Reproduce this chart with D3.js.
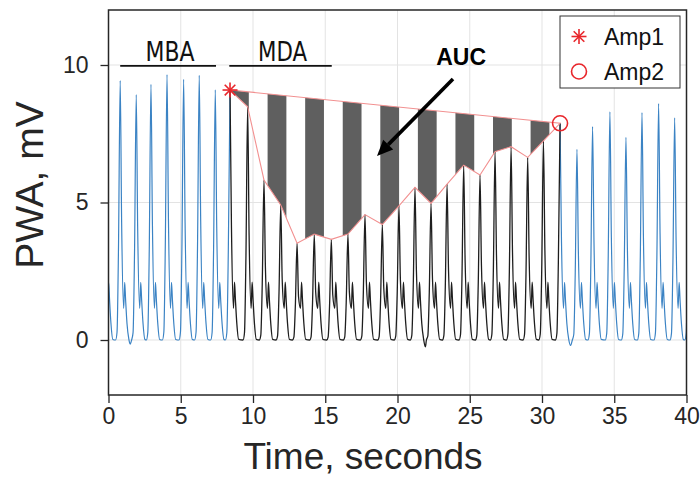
<!DOCTYPE html>
<html>
<head>
<meta charset="utf-8">
<script src="https://cdn.jsdelivr.net/npm/d3@7"></script>
<style>
  body { margin: 0; background: #fff; }
  svg { display: block; }
</style>
</head>
<body>
<svg id="chart" width="700" height="479"></svg>
<script>
// ---- data ---------------------------------------------------------------
// Time of each systolic peak (s) and its pulse wave amplitude (mV)
const beatTimes = [-0.30, 0.81, 1.92, 2.94, 4.05, 5.20, 6.28, 7.39,
  8.41, 9.63, 10.76, 11.92, 13.05, 14.24, 15.42, 16.57, 17.75, 18.95, 20.10,
  21.21, 22.32, 23.43, 24.58, 25.71, 26.75, 27.86, 29.01, 30.10, 31.25,
  32.42, 33.50, 34.70, 35.81, 36.92, 38.07, 39.18, 40.20];
const beatPeaks = [9.00, 9.43, 8.92, 9.30, 9.65, 9.48, 9.62, 9.10,
  9.09, 8.48, 5.82, 4.91, 3.52, 3.85, 3.66, 3.85, 4.56, 4.20, 4.88,
  5.55, 4.97, 5.67, 6.36, 6.00, 6.85, 7.03, 6.64, 7.24, 7.88,
  6.93, 7.76, 8.30, 7.37, 8.27, 8.60, 8.08, 8.50];

// Contour of one pulse: offset from the systolic peak (s), share of the
// peak amplitude, and the diastolic (dicrotic) level in mV
const pulseOffsets = [-0.32, -0.22, -0.12, 0, 0.10, 0.24, 0.31, 0.37, 0.47, 0.60];
const pulseShare   = [0, 0.03, 0.35, 1, 0.45, 0, 0, 0, 0, 0];
const pulseLevel   = [0, 0, 0, 0, 0, 1.15, 2.1, 1.5, 0.6, 0.02];

// Baseline undershoots between pulses: time (s), level (mV)
const dipTimes  = [1.50, 21.93, 31.98];
const dipLevels = [-0.15, -0.25, -0.20];

// Vasoconstriction event: first (Amp1) and last (Amp2) peak
const amp1Time = 8.41, amp1Value = 9.09;
const amp2Time = 31.25, amp2Value = 7.88;

// Baseline / dip windows
const windowNames  = ["MBA", "MDA"];
const windowStarts = [0.81, 8.36];
const windowEnds   = [7.44, 15.45];

const xTicks = [0, 5, 10, 15, 20, 25, 30, 35, 40];
const yTicks = [0, 5, 10];

// ---- layout & styles ----------------------------------------------------
const svg = d3.select("#chart");
const W = 700, H = 479;
const x = d3.scaleLinear().domain([0, 40]).range([108.5, 686.5]);
const y = d3.scaleLinear().domain([-2, 12]).range([395, 10]);
const FONT = "'Liberation Sans', Arial, Helvetica, sans-serif";
const INK = "#262626";
const BLUE = "#3b83c4";
const RED = "#e8262b";
const stripePeriod = 2.6;   // seconds per dark+light stripe pair

svg.append("rect").attr("width", W).attr("height", H).attr("fill", "#fff");

const defs = svg.append("defs");
defs.append("clipPath").attr("id", "plotClip")
  .append("rect")
  .attr("x", x(0)).attr("y", y(12))
  .attr("width", x(40) - x(0)).attr("height", y(-2) - y(12));

const period = x(stripePeriod) - x(0);
const pat = defs.append("pattern").attr("id", "stripes")
  .attr("patternUnits", "userSpaceOnUse")
  .attr("x", x(amp1Time)).attr("y", 0)
  .attr("width", period).attr("height", H);
pat.append("rect").attr("width", period).attr("height", H).attr("fill", "#fff");
pat.append("rect").attr("width", period / 2).attr("height", H).attr("fill", "#5f5f5f");

// ---- grid ---------------------------------------------------------------
const grid = svg.append("g").attr("stroke", "#e3e3e3").attr("stroke-width", 1);
grid.selectAll(".gx").data(xTicks.slice(1, -1)).join("line")
  .attr("x1", d => x(d)).attr("x2", d => x(d))
  .attr("y1", y(12)).attr("y2", y(-2));
grid.selectAll(".gy").data(yTicks).join("line")
  .attr("x1", x(0)).attr("x2", x(40))
  .attr("y1", d => y(d)).attr("y2", d => y(d));

// ---- waveform samples -----------------------------------------------------
const samples = [];
beatTimes.forEach((t, i) => {
  pulseOffsets.forEach((o, k) => {
    samples.push({ t: t + o, v: pulseShare[k] * beatPeaks[i] + pulseLevel[k] });
  });
});
dipTimes.forEach((t, i) => samples.push({ t, v: dipLevels[i] }));
samples.sort((a, b) => a.t - b.t);

const plot = svg.append("g").attr("clip-path", "url(#plotClip)");

// ---- area under the curve (striped) --------------------------------------
const eventPeaks = beatTimes
  .map((t, i) => ({ t, v: beatPeaks[i] }))
  .filter(d => d.t >= amp1Time - 1e-6 && d.t <= amp2Time + 1e-6);
const lineXY = d3.line().x(d => x(d.t)).y(d => y(d.v));
const aucPath = lineXY(eventPeaks) + "Z";
plot.append("path").attr("d", aucPath).attr("fill", "url(#stripes)");

// ---- waveform -------------------------------------------------------------
const wave = d3.line().x(d => x(d.t)).y(d => y(d.v)).curve(d3.curveMonotoneX);
const before = samples.filter(d => d.t <= amp1Time + 1e-6);
const during = samples.filter(d => d.t >= amp1Time - 1e-6 && d.t <= amp2Time + 1e-6);
const after  = samples.filter(d => d.t >= amp2Time - 1e-6);
plot.append("path").attr("d", wave(before)).attr("fill", "none")
  .attr("stroke", BLUE).attr("stroke-width", 1.2).attr("stroke-linejoin", "round");
plot.append("path").attr("d", wave(after)).attr("fill", "none")
  .attr("stroke", BLUE).attr("stroke-width", 1.2).attr("stroke-linejoin", "round");
plot.append("path").attr("d", wave(during)).attr("fill", "none")
  .attr("stroke", "#1e1e1e").attr("stroke-width", 1.3).attr("stroke-linejoin", "round");

// AUC outline
plot.append("path").attr("d", aucPath).attr("fill", "none")
  .attr("stroke", "#f29090").attr("stroke-width", 1.1);

// ---- markers --------------------------------------------------------------
function asterisk(g, cx, cy, r) {
  const a = g.append("g").attr("transform", `translate(${cx},${cy})`)
    .attr("stroke", RED).attr("stroke-width", 1.6);
  [0, 45, 90, 135].forEach(deg => {
    const rad = deg * Math.PI / 180;
    a.append("line")
      .attr("x1", -r * Math.cos(rad)).attr("y1", -r * Math.sin(rad))
      .attr("x2", r * Math.cos(rad)).attr("y2", r * Math.sin(rad));
  });
}
asterisk(svg, x(amp1Time), y(amp1Value), 7.5);
svg.append("circle").attr("cx", x(amp2Time)).attr("cy", y(amp2Value)).attr("r", 7.5)
  .attr("fill", "none").attr("stroke", RED).attr("stroke-width", 1.6);

// ---- MBA / MDA windows ----------------------------------------------------
windowNames.forEach((name, i) => {
  const x0 = x(windowStarts[i]), x1 = x(windowEnds[i]);
  svg.append("line").attr("x1", x0).attr("x2", x1)
    .attr("y1", y(9.97)).attr("y2", y(9.97))
    .attr("stroke", "#111").attr("stroke-width", 1.6);
  svg.append("text").text(name)
    .attr("x", (x0 + x1) / 2 + 2).attr("y", y(9.97) - 4.5)
    .attr("text-anchor", "middle")
    .attr("font-family", "'DejaVu Sans Condensed', 'DejaVu Sans', sans-serif")
    .attr("font-size", 26)
    .attr("textLength", 49).attr("lengthAdjust", "spacingAndGlyphs")
    .attr("fill", "#111");
});

// ---- AUC annotation ------------------------------------------------------
svg.append("text").text("AUC")
  .attr("x", x(24.4)).attr("y", y(10.0))
  .attr("text-anchor", "middle")
  .attr("font-family", FONT).attr("font-weight", "bold").attr("font-size", 23)
  .attr("fill", "#000");
{
  const x0 = x(23.84), y0 = y(9.49), x1 = x(18.58), y1 = y(6.69);
  const ang = Math.atan2(y1 - y0, x1 - x0);
  const headLen = 16, headW = 7;
  const bx = x1 - headLen * Math.cos(ang), by = y1 - headLen * Math.sin(ang);
  svg.append("line").attr("x1", x0).attr("y1", y0).attr("x2", bx).attr("y2", by)
    .attr("stroke", "#000").attr("stroke-width", 3.6);
  const px = -Math.sin(ang), py = Math.cos(ang);
  svg.append("path")
    .attr("d", `M${x1},${y1}L${bx + headW * px},${by + headW * py}L${bx - headW * px},${by - headW * py}Z`)
    .attr("fill", "#000");
}

// ---- axes -----------------------------------------------------------------
const xAxis = svg.append("g").attr("transform", `translate(0,${y(-2)})`)
  .call(d3.axisBottom(x).tickValues(xTicks).tickSize(8).tickSizeOuter(0).tickPadding(5));
const yAxis = svg.append("g").attr("transform", `translate(${x(0)},0)`)
  .call(d3.axisLeft(y).tickValues(yTicks).tickSize(8).tickSizeOuter(0).tickPadding(12));
[xAxis, yAxis].forEach(g => {
  g.select(".domain").remove();
  g.selectAll(".tick line").attr("stroke", INK).attr("stroke-width", 1.3);
  g.selectAll(".tick text").attr("fill", INK)
    .attr("font-family", FONT).attr("font-size", 23);
});

// frame
svg.append("rect")
  .attr("x", x(0)).attr("y", y(12))
  .attr("width", x(40) - x(0)).attr("height", y(-2) - y(12))
  .attr("fill", "none").attr("stroke", INK).attr("stroke-width", 1.5);

// axis titles
svg.append("text").text("Time, seconds")
  .attr("x", 363).attr("y", 469).attr("text-anchor", "middle")
  .attr("font-family", FONT).attr("font-size", 37).attr("fill", INK);
svg.append("text").text("PWA, mV")
  .attr("transform", `translate(43,185) rotate(-90)`)
  .attr("text-anchor", "middle")
  .attr("font-family", FONT).attr("font-size", 39).attr("fill", INK);

// ---- legend ---------------------------------------------------------------
const lg = svg.append("g");
lg.append("rect").attr("x", 560).attr("y", 16).attr("width", 120).attr("height", 72)
  .attr("fill", "#fff").attr("stroke", "#333").attr("stroke-width", 1);
asterisk(lg, 579, 36.5, 7.5);
lg.append("circle").attr("cx", 579).attr("cy", 71.5).attr("r", 7.5)
  .attr("fill", "none").attr("stroke", RED).attr("stroke-width", 1.6);
["Amp1", "Amp2"].forEach((s, i) => {
  lg.append("text").text(s).attr("x", 604).attr("y", 45 + i * 35)
    .attr("font-family", FONT).attr("font-size", 23).attr("fill", "#111");
});
</script>
</body>
</html>
